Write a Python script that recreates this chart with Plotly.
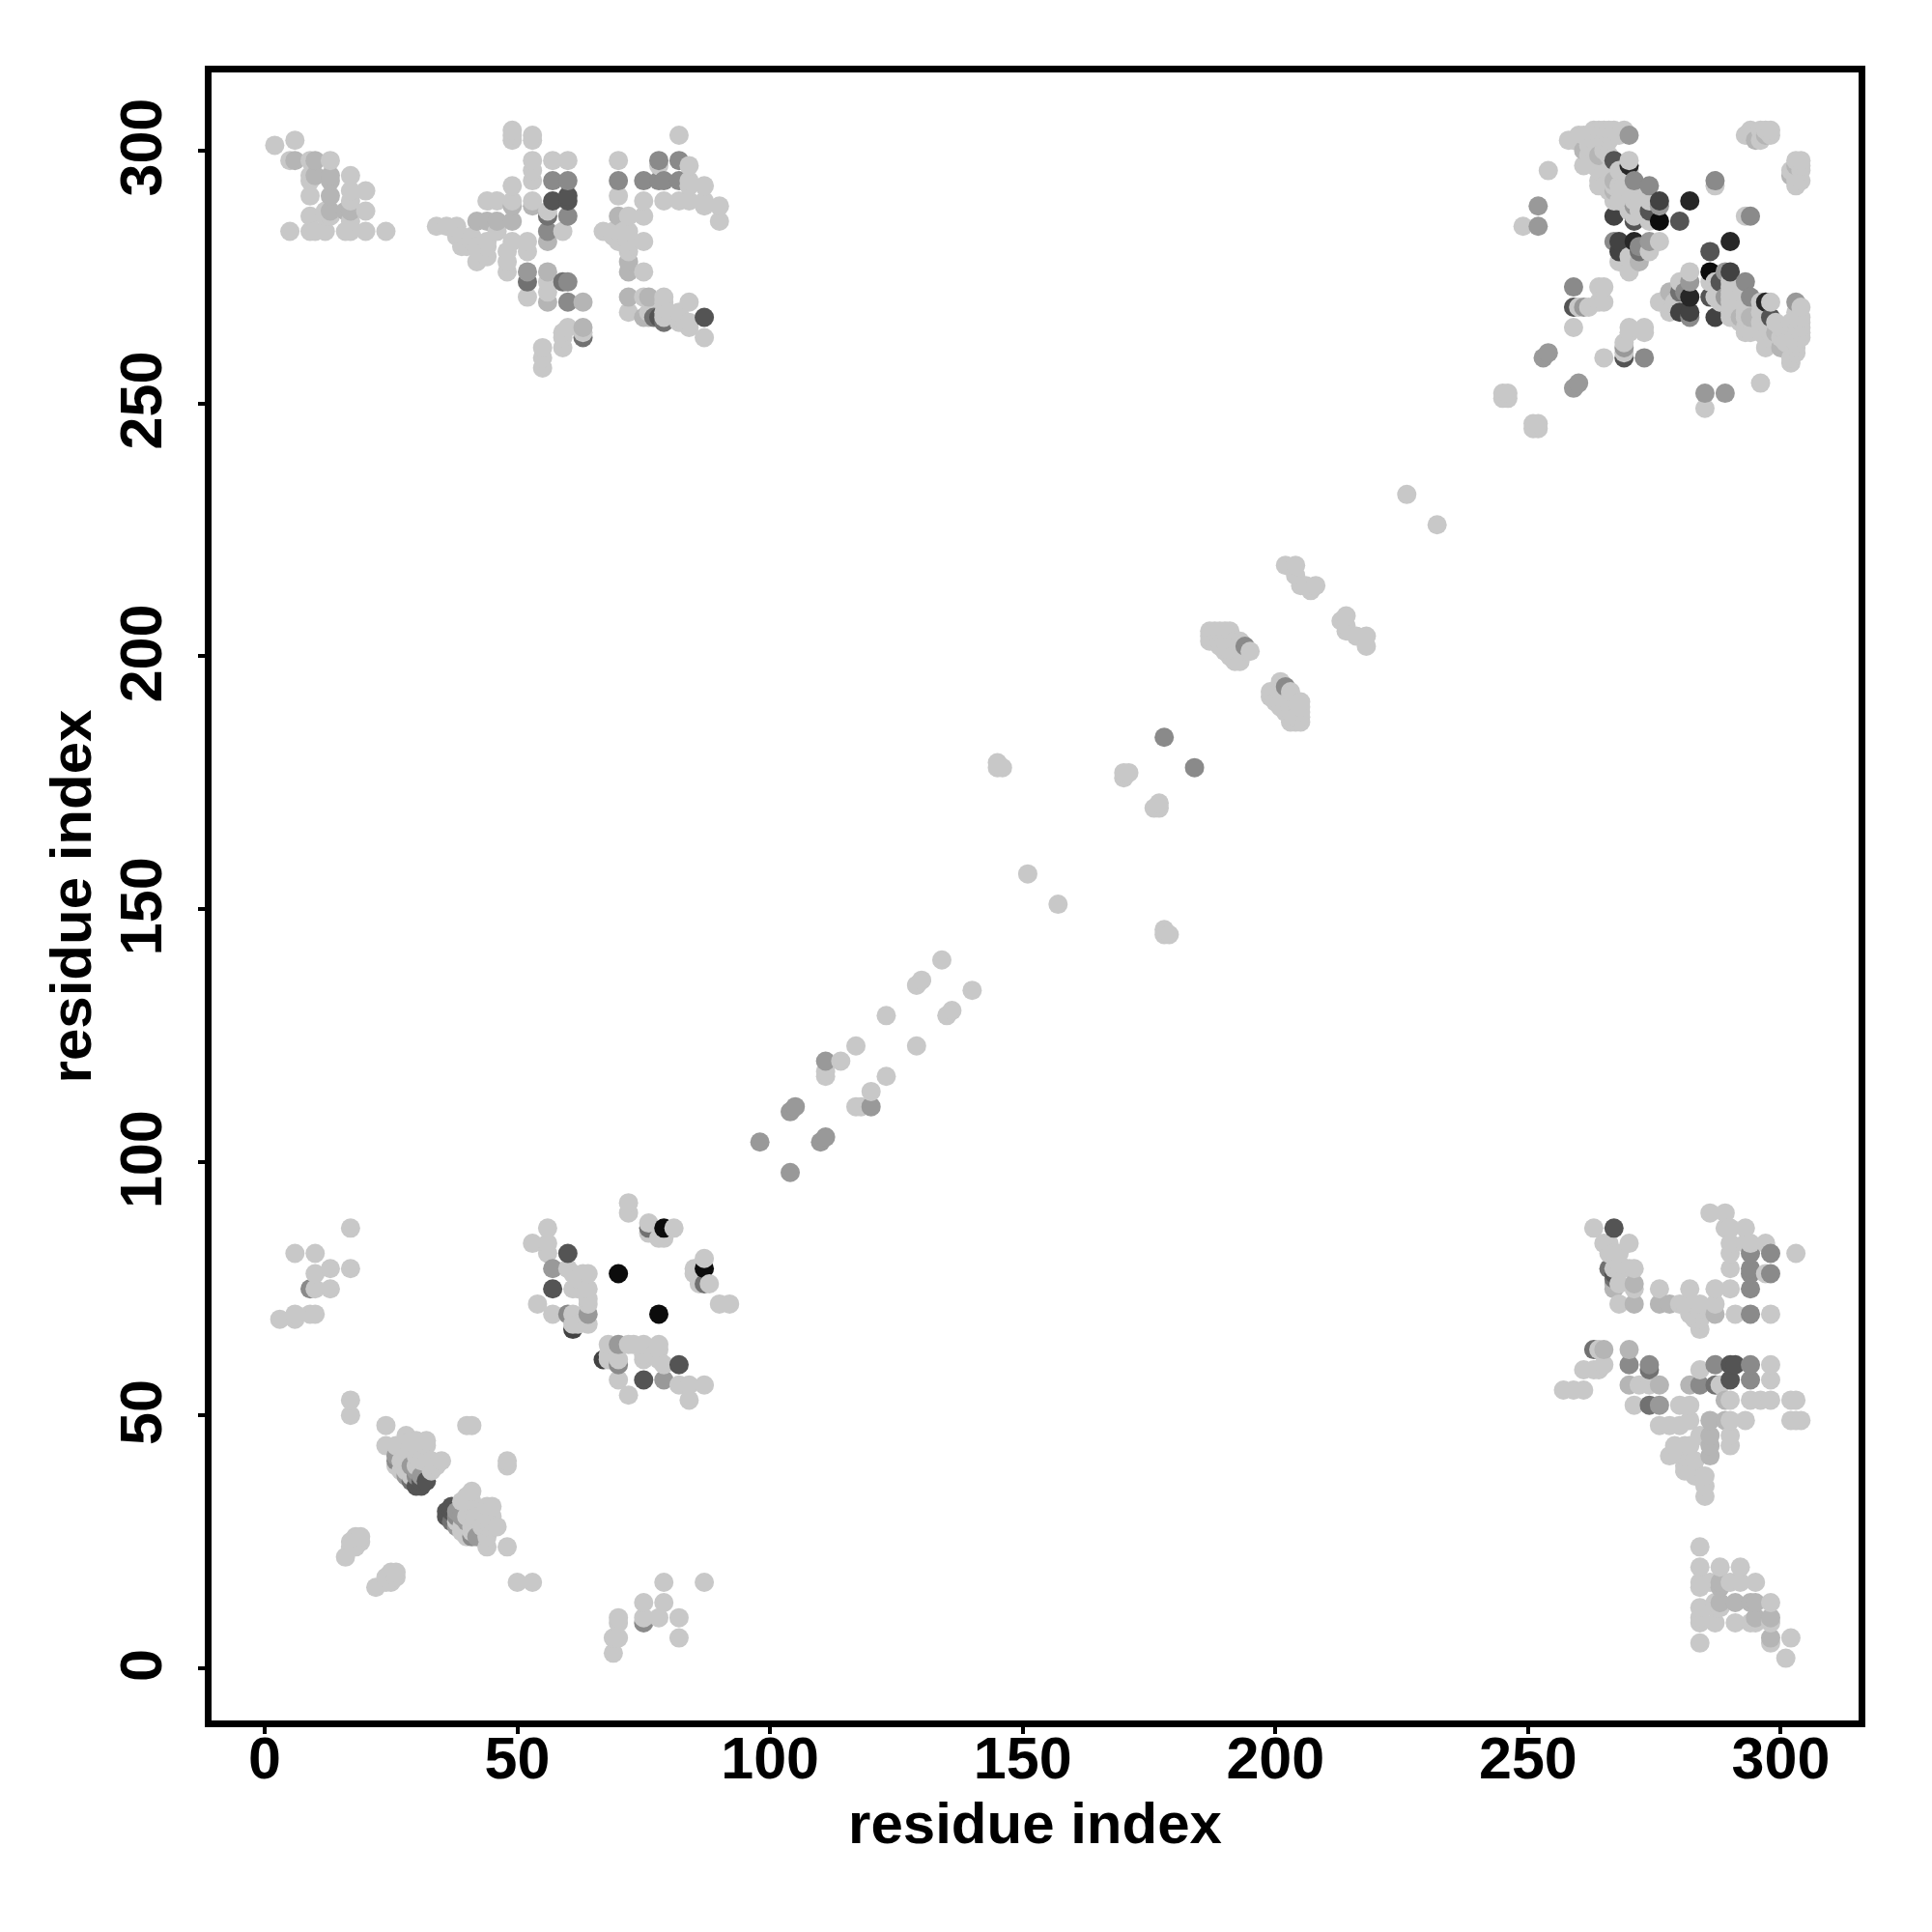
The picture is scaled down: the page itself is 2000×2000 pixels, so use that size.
import pandas as pd
import plotly.graph_objects as go

# Contact pairs (residue i < residue j), grouped by contact score.
score_000 = [
 (111,118),(111,117),(114,120),(117,123),(123,129),(129,135),(130,136),(134,140),(145,179),(146,178),(145,178),
 (151,157),(170,176),(170,177),(171,177),(226,232),
 (202,218),(204,218),(204,216),(205,214),(206,214),(207,213),(208,214),
 (187,205),(187,204),(187,203),(188,205),(189,205),(190,205),(191,205),(188,204),(188,203),(189,203),(190,203),
 (189,202),(190,201),(191,200),(192,199),(192,201),(193,199),(191,202),(192,203),(193,201),(193,203),(195,201),(190,202),(191,201),
 (16,22),(17,25),(18,26),(19,26),(19,25),(17,24),(18,24),(17,53),(17,50),
 (24,48),(40,48),(41,48),(28,46),(24,44),(26,44),(28,44),(29,44),(30,44),(32,44),(29,45),(30,45),(32,45),(28,45),
 (26,40),(28,41),(28,39),(28,43),(30,42),(33,39),(34,40),(35,41),(33,41),(31,41),(32,41),(30,40),(27,41),(27,39),(29,38),
 (3,69),(6,69),(6,70),(9,70),(10,70),(10,75),(13,75),(10,78),(13,79),(17,79),(6,82),(10,82),(17,87),
 (72,92),(72,90),(56,87),(76,87),(81,87),(79,85),(78,85),(53,84),(56,84),(56,82),(60,79),(61,78),(64,78),(61,75),(64,75),
 (64,73),(64,72),(54,72),(57,70),(61,70),(61,68),(87,81),(85,79),(88,76),(86,76),(90,72),(92,72),(62,77),(62,75),(63,78),(64,68),(62,68),
 (90,286),(90,289),(87,263),(87,289),(87,290),(87,293),(84,265),(84,270),(84,290),(84,294),(84,297),
 (82,266),(82,290),(82,303),(82,267),(82,268),(80,268),(79,268),(79,290),(79,270),(78,297),(76,268),
 (75,276),(75,282),(75,287),(75,290),(72,268),(72,280),(72,282),(72,284),(72,287),(72,281),(71,284),
 (70,291),(70,298),(70,284),(70,282),(69,283),(69,284),(67,284),(63,264),(63,265),(60,265),(60,298),
 (59,263),(59,261),(59,284),(59,264),(57,298),(56,272),(56,274),(56,288),(55,261),(55,259),(55,257),
 (53,294),(53,296),(53,298),(53,302),(53,303),(53,290),(52,271),(52,280),(52,282),(49,302),(49,303),(49,304),
 (49,290),(49,293),(49,282),(48,276),(48,278),(48,280),(46,290),(46,284),(46,286),(44,290),(44,279),(44,281),(44,282),
 (42,278),(42,281),(40,281),(41,283),(41,282),(39,283),(38,285),(34,285),(36,285),(38,283),(39,281),(42,286),
 (24,284),(20,284),(20,288),(20,292),(17,284),(16,284),(17,286),(17,290),(17,292),(17,295),(12,284),(9,284),(5,284),
 (12,287),(12,288),(13,298),(9,287),(9,291),(9,294),(9,295),(10,295),(10,284),(9,298),(5,298),(6,302),(2,301),(13,287),
 (75,271),(76,271),(79,271),(84,266),(87,289),(84,293),(79,267),
 (254,296),(249,285),(245,251),(245,252),(246,252),(251,246),(259,265),(260,269),(262,269),(264,270),(264,273),(265,273),(265,270),
 (259,302),(261,303),(261,297),(262,301),(263,300),(263,302),(264,304),(265,304),(266,304),(267,304),(265,302),(265,300),
 (264,298),(264,296),(264,294),(264,293),(266,296),(266,292),(267,293),(267,290),(268,296),(268,293),(269,291),(270,290),
 (271,290),(270,293),(271,287),(272,288),(273,288),(273,290),(274,290),(274,286),(270,288),(268,290),(262,299),(263,297),(265,293),(266,302),
 (270,279),(270,276),(268,278),(274,280),(276,282),(272,281),(270,298),(287,293),(293,303),(294,304),(296,302),(298,304),(296,304),(294,303),
 (295,302),(297,304),(298,303),(267,303),(274,287),(258,302),(260,303),
 (266,303),(268,303),(269,304),(263,304),(269,293),(270,296),(272,290),(271,292),(266,299),(262,303),
]
score_010 = [
 (72,271),(72,276),(72,278),(72,271),(75,267),(76,267),(76,271),(70,287),(63,270),(63,265),(56,270),(56,276),(56,282),
 (53,289),(49,286),(49,289),(46,286),(44,286),(42,286),(17,288),(16,288),(13,291),(13,294),(13,295),(10,295),(10,298),(6,298),
 (13,288),(272,278),(297,303),(261,300),(295,302),(264,299),(267,294),(267,292),
]
score_024 = [
 (98,104),(104,110),(105,111),(111,120),(57,79),(64,70),(26,42),(30,39),(29,40),(31,38),(28,38),(52,276),
 (252,289),(252,285),(253,259),(254,260),(261,269),(270,303),(274,282),(271,289),(276,289),
]
score_032 = [
 (178,184),(194,202),(9,75),(60,70),(26,41),(30,38),(60,270),(60,274),(60,287),(60,294),(57,294),(56,284),
 (82,298),(82,294),(79,294),(78,298),(78,294),(75,294),(70,294),(60,274),(271,294),(274,293),(259,273),(267,282),
 (272,281),(287,294),
]
score_045 = [(79,266),(63,263),(59,274),(56,287),(52,274),(77,267),(272,280),(29,37),(76,87)]
score_060 = [(87,267),(60,290),(60,291),(57,290),(78,267),(60,82),(57,75),(30,36),(31,36),(32,37),(31,37),(271,286),(280,286),(267,298),(259,269),(274,288)]
score_069 = [(61,67),(276,290),(267,287),(268,282),(268,280)]
score_083 = [(270,297),(271,282),(282,290)]
score_097 = [(70,78),(78,70),(79,87),(87,79),(276,286)]

groups = {0.0: score_000, 0.10: score_010, 0.24: score_024, 0.32: score_032, 0.45: score_045,
          0.60: score_060, 0.69: score_069, 0.83: score_083, 0.97: score_097}

x_ticks = [0, 50, 100, 150, 200, 250, 300]
axis_title = "residue index"

rows = {}
for score, pairs in groups.items():
    for a, b in pairs:
        rows[(a, b)] = score
        rows[(b, a)] = score
df = pd.DataFrame([(k[0], k[1], v) for k, v in rows.items()], columns=["x", "y", "score"])
df = df.sort_values(["x", "y"])

fig = go.Figure(go.Scatter(
    x=df["x"], y=df["y"], mode="markers",
    marker=dict(size=20, line=dict(width=0), color=df["score"], cmin=0, cmax=1,
                colorscale=[[0, "#c8c8c8"], [1, "#060606"]], showscale=False),
    hoverinfo="x+y",
))
font = "Liberation Sans"
axis = dict(tickvals=x_ticks,
            showgrid=False, zeroline=False, showline=True, mirror=True, linecolor="black", linewidth=6.5,
            ticks="outside", ticklen=7, tickwidth=4, tickcolor="black",
            tickfont=dict(family=font, size=61, color="black", weight="bold"))
title_font = dict(family=font, size=60, color="black", weight="bold")
fig.update_layout(
    width=2000, height=2000, autosize=False, showlegend=False,
    paper_bgcolor="white", plot_bgcolor="white",
    margin=dict(l=211, r=84, t=66.5, b=227),
    xaxis=dict(axis, range=[-10.5, 315.4], ticktext=[str(t) for t in x_ticks], ticklabelstandoff=-27,
               title=dict(text=axis_title, standoff=14, font=title_font)),
    yaxis=dict(axis, range=[-10.3, 315.4], ticktext=[str(t) + "\u2009" for t in x_ticks], tickangle=-90, ticklabelstandoff=14,
               title=dict(text=axis_title, standoff=0, font=title_font)),
)
fig.write_html("out.html")
